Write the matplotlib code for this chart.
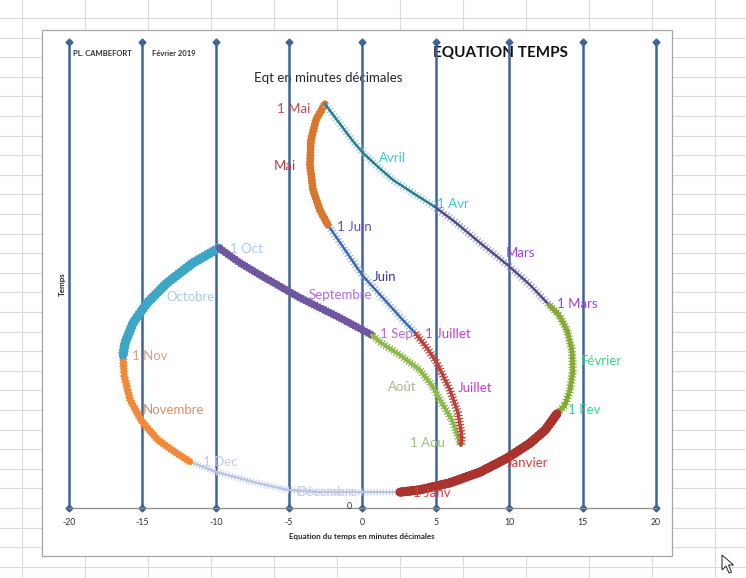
import matplotlib
matplotlib.use("Agg")
import matplotlib.pyplot as plt
import matplotlib.patheffects as pe
from matplotlib.patches import Rectangle, Polygon

plt.rcParams['font.family'] = ['Lato', 'DejaVu Sans']

# ---- data: equation of time (minutes) vs. "Temps", one segment per month ----
jan_x = [2.56, 3.92, 5.96, 8.01, 9.85, 11.41, 12.44, 13.25]
jan_y = [3.4, 3.9, 5.4, 7.7, 10.7, 13.9, 16.7, 20.2]
feb_x = [13.25, 13.80, 14.14, 14.34, 14.27, 13.93, 13.39, 12.71]
feb_y = [20.2, 22.1, 25.3, 29.6, 33.9, 38.2, 41.4, 43.6]
mar_x = [12.71, 11.41, 9.91, 8.01, 6.30, 4.94]
mar_y = [43.6, 47.9, 52.1, 56.9, 61.4, 64.6]
apr_x = [4.94, 3.44, 2.08, 1.06, 0.03, -0.72, -1.53, -2.56]
apr_y = [64.6, 67.6, 70.4, 73.2, 76.2, 79.0, 82.4, 86.7]
may_x = [-2.56, -3.17, -3.51, -3.58, -3.37, -2.90, -2.35]
may_y = [86.7, 83.3, 79.0, 73.6, 68.2, 63.9, 60.7]
jun_x = [-2.35, -1.19, -0.03, 1.53, 2.76, 3.58]
jun_y = [60.7, 55.4, 50.0, 44.6, 40.3, 37.6]
jul_x = [3.58, 4.40, 5.08, 5.96, 6.51, 6.78, 6.71]
jul_y = [37.6, 34.3, 31.1, 25.3, 20.4, 15.2, 13.5]
aug_x = [6.71, 6.10, 5.28, 4.80, 3.92, 2.56, 1.19, 0.65]
aug_y = [13.5, 18.9, 23.2, 26.0, 29.6, 32.8, 35.6, 37.1]
sep_x = [0.65, -1.53, -4.26, -6.98, -8.35, -9.78]
sep_y = [37.1, 40.8, 45.1, 50.0, 52.6, 55.8]
oct_x = [-9.78, -11.55, -13.32, -14.68, -15.64, -16.18, -16.32]
oct_y = [55.8, 52.6, 48.3, 44.0, 39.7, 35.4, 32.8]
nov_x = [-16.32, -16.25, -15.84, -15.02, -13.94, -12.78, -11.75]
nov_y = [32.8, 28.5, 23.2, 18.5, 14.6, 12.0, 9.9]
dec_x = [-11.75, -9.92, -7.46, -5.14, -2.90, 0.03, 2.56]
dec_y = [9.9, 7.7, 5.6, 3.9, 3.4, 3.4, 3.4]

x_ticks = [-20, -15, -10, -5, 0, 5, 10, 15, 20]

label_text = ["1 Mai", "Mai", "Avril", "1 Avr", "1 Juin", "Juin", "Mars", "1 Mars",
              "Février", "1 Fev", "Janvier", "1 Janv", "Septembre", "1 Sep",
              "1 Juillet", "Juillet", "Août", "1 Aou", "1 Oct", "Octobre",
              "1 Nov", "Novembre", "1 Dec", "Décembre"]
label_x = [-5.83, -6.03, 1.12, 5.08, -1.74, 0.72, 9.78, 13.25,
           14.89, 14.0, 9.85, 3.44, -3.65, 1.19,
           4.26, 6.51, 1.74, 3.24, -9.03, -13.39,
           -15.70, -14.96, -10.87, -4.46]
label_y = [85.6, 73.4, 75.1, 65.2, 60.3, 49.6, 54.7, 43.8,
           31.5, 21.0, 9.7, 3.2, 45.7, 37.3,
           37.3, 25.8, 26.0, 13.9, 55.6, 45.3,
           32.6, 21.0, 9.9, 3.4]
label_color = ["#C8464F", "#B03C48", "#2ECCD6", "#2ECCD6", "#5A4FCF", "#3636B0",
               "#A23FD8", "#A23FD8", "#35D68A", "#35D68A", "#E03C3C", "#E03C3C",
               "#B36AE2", "#B36AE2", "#C93AD0", "#C93AD0", "#A9B98E", "#9CC27C",
               "#A8CBEA", "#A8CBEA", "#E09C7A", "#D88E6A", "#C2C8EC", "#C5CCEA"]

W, H = 746, 578
fig = plt.figure(figsize=(W / 100, H / 100), dpi=100)

# ---- worksheet background with cell grid ----
bg = fig.add_axes([0, 0, 1, 1])
bg.set_xlim(0, W)
bg.set_ylim(H, 0)
bg.axis('off')
for gx in [22, 85, 148, 211, 274, 337, 400, 463, 526, 589, 652, 715]:
    bg.plot([gx, gx], [0, H], color="#DADADA", lw=0.8)
gy = 18.0
while gy < H:
    bg.plot([0, W], [gy, gy], color="#DADADA", lw=0.8)
    gy += 19.6

# chart frame
bg.add_patch(Rectangle((42, 30), 630, 526, facecolor="white",
                       edgecolor="#A6A6A6", lw=0.9, zorder=3))

# header texts
bg.text(73, 53, "PL. CAMBEFORT", fontsize=5.5, fontweight='bold',
        color="#303030", va='center', ha='left', zorder=4)
bg.text(152, 53, "Février 2019", fontsize=5.5, fontweight='bold',
        color="#303030", va='center', ha='left', zorder=4)
bg.text(500, 53, "EQUATION TEMPS", fontsize=11, fontweight='bold',
        color="#111111", va='center', ha='center', zorder=4)
bg.text(328, 78, "Eqt en minutes décimales", fontsize=9.5,
        color="#262626", va='center', ha='center', zorder=4)
bg.text(362, 537, "Equation du temps en minutes décimales", fontsize=5.8,
        fontweight='bold', color="#262626", va='center', ha='center', zorder=4)
bg.text(62, 284, "Temps", fontsize=5.8, fontweight='bold', rotation=90,
        color="#262626", va='center', ha='center', zorder=4)

# mouse pointer
bg.add_patch(Polygon([(722, 555), (722, 570), (726, 566), (729, 573), (731.5, 572),
                      (728.5, 565), (733.5, 565)], closed=True,
                     facecolor="white", edgecolor="#222222", lw=0.7, zorder=4))

# ---- chart ----
ax = fig.add_axes([69 / W, (H - 508) / H, 587 / W, 466 / H])
ax.patch.set_alpha(0)
ax.set_xlim(-20, 20)
ax.set_ylim(0, 100)
for s in ['left', 'top', 'right']:
    ax.spines[s].set_visible(False)
ax.spines['bottom'].set_color("#8C8C8C")
ax.spines['bottom'].set_linewidth(0.9)
ax.set_xticks(x_ticks)
ax.set_xticklabels([str(t) for t in x_ticks])
ax.tick_params(axis='x', length=0, pad=7, labelsize=6.3, labelcolor="#303030")
ax.set_yticks([])
ax.text(-0.92, 0.3, "0", fontsize=6.3, color="#303030", ha='center', va='center')

# vertical reference series at each tick
for xv in x_ticks:
    ax.plot([xv, xv], [0, 100], color="#3F6499", lw=1.8, marker='D', ms=3.5,
            clip_on=False, zorder=2)


def ticked(color, spacing, length, lw=0.8):
    return [pe.withTickedStroke(angle=90, spacing=spacing, length=length,
                                linewidth=lw, foreground=color),
            pe.withTickedStroke(angle=-90, spacing=spacing, length=length,
                                linewidth=lw, foreground=color),
            pe.Normal()]


def month(xs, ys, color, lw, tick_color=None, spacing=2.4, length=0.9, tlw=0.8):
    effects = ticked(tick_color, spacing, length, tlw) if tick_color else None
    ax.plot(xs, ys, color=color, lw=lw, solid_capstyle='round',
            solid_joinstyle='round', path_effects=effects, zorder=3)


month(dec_x, dec_y, "#B8C4E6", 1.3, "#C6D0F0", 2.2, 1.0)
month(nov_x, nov_y, "#F08A3A", 4.2, "#F08A3A", 2.2, 1.2, 0.9)
month(oct_x, oct_y, "#3DA6C4", 6.0, "#3DA6C4", 2.2, 1.5, 0.9)
month(sep_x, sep_y, "#6F56A0", 4.6, "#6F56A0", 2.2, 1.2, 0.9)
month(aug_x, aug_y, "#8DB84A", 2.4, "#8DB84A", 2.2, 1.2, 0.9)
month(jul_x, jul_y, "#C0403A", 2.0, "#C0403A", 2.2, 1.2, 0.9)
month(jun_x, jun_y, "#4468B0", 1.4, "#8CB8E8", 2.4, 1.1)
month(may_x, may_y, "#D9782D", 4.8, "#D9782D", 2.2, 1.2, 0.9)
month(apr_x, apr_y, "#2F7C8C", 1.4, "#8FD0E0", 2.4, 1.1)
month(mar_x, mar_y, "#4F4F8A", 1.4, "#9A9AD6", 2.4, 1.1)
month(feb_x, feb_y, "#86AA38", 3.0, "#86AA38", 2.2, 1.2, 0.9)
month(jan_x, jan_y, "#A9342E", 6.2, "#A9342E", 2.2, 1.4, 0.9)

for t, lx, ly, c in zip(label_text, label_x, label_y, label_color):
    ax.text(lx, ly, t, fontsize=9.5, color=c, ha='left', va='center', zorder=4)

fig.savefig("out.png", dpi=100)
